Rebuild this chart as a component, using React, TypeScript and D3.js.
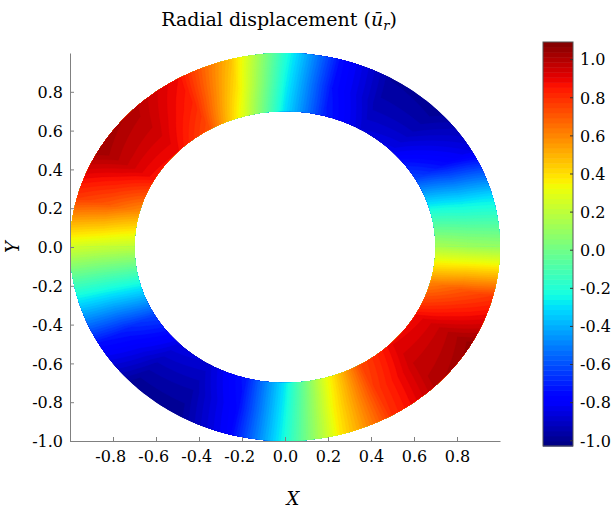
import { useRef, useEffect } from 'react'
import * as d3 from 'd3'

// angle of each sample around the ring, degrees from +X, counter-clockwise
const angles = [0, 15, 30, 45, 60, 75, 90, 105, 120, 135, 150, 165, 180, 195, 210, 225, 240, 255, 270, 285, 300, 315, 330, 345]
// radius of each sample row
const radii = [0.7, 0.85, 1.0]
// radial displacement, one list per row
const innerValues = [0.15, -0.2, -0.62, -0.83, -0.87, -0.7, -0.3, 0.25, 0.72, 0.88, 0.86, 0.58, 0.2, -0.22, -0.62, -0.84, -0.88, -0.72, -0.28, 0.28, 0.74, 0.9, 0.88, 0.6]
const middleValues = [0.12, -0.26, -0.75, -0.93, -0.94, -0.74, -0.25, 0.38, 0.82, 0.95, 0.96, 0.7, 0.22, -0.24, -0.7, -0.93, -0.95, -0.76, -0.25, 0.34, 0.78, 0.96, 0.97, 0.7]
const outerValues = [0.1, -0.3, -0.85, -1.0, -0.98, -0.75, -0.2, 0.48, 0.88, 1.0, 1.04, 0.78, 0.25, -0.25, -0.75, -1.0, -1.0, -0.78, -0.22, 0.38, 0.8, 1.0, 1.05, 0.78]

const xTicks = [-0.8, -0.6, -0.4, -0.2, 0.0, 0.2, 0.4, 0.6, 0.8]
const yTicks = [-1.0, -0.8, -0.6, -0.4, -0.2, 0.0, 0.2, 0.4, 0.6, 0.8]
const barTicks = [-1.0, -0.8, -0.6, -0.4, -0.2, 0.0, 0.2, 0.4, 0.6, 0.8, 1.0]
const valueMin = -1.03
const valueMax = 1.09
const levelCount = 80

// jet colormap channels
const jetR = d3.scaleLinear().domain([0, 0.35, 0.66, 0.89, 1]).range([0, 0, 1, 1, 0.5]).clamp(true)
const jetG = d3.scaleLinear().domain([0, 0.125, 0.375, 0.64, 0.91, 1]).range([0, 0, 1, 1, 0, 0]).clamp(true)
const jetB = d3.scaleLinear().domain([0, 0.11, 0.34, 0.65, 1]).range([0.5, 1, 1, 0, 0]).clamp(true)
const jet = (v: number) => {
    const t = (v - valueMin) / (valueMax - valueMin)
    return d3.rgb(255 * jetR(t), 255 * jetG(t), 255 * jetB(t)).formatHex()
}

const App = () => {
    const svgRef = useRef<SVGSVGElement>(null)

    useEffect(() => {
        const w = 615
        const h = 508
        const font = '"DejaVu Serif", serif'
        const axisColor = '#808080'
        const svg = d3.select(svgRef.current)
            .attr('width', w)
            .attr('height', h)
            .style('display', 'block')
            .style('position', 'absolute')
            .style('left', 0)
            .style('top', 0)
            .style('font-family', font)
        svg.selectAll('*').remove()

        const xScale = d3.scaleLinear().domain([-1, 1]).range([70, 500])
        const yScale = d3.scaleLinear().domain([-1, 1]).range([441, 53])
        const barScale = d3.scaleLinear().domain([valueMin, valueMax]).range([446, 42])

        const levels = d3.range(levelCount + 1).map(i => valueMin + (valueMax - valueMin) * i / levelCount)
        const bandColors = d3.range(levelCount).map(i => jet((levels[i] + levels[i + 1]) / 2))
        const thresholds = levels.slice(0, levelCount).map((t, i) => (i === 0 ? -100 : t))

        const rows = [innerValues, middleValues, outerValues]
        const n = angles.length
        const step = angles[1] - angles[0]
        const rStep = radii[1] - radii[0]

        // grid space -> pixels (grid column c sits at gx = c + 0.5)
        const toPx = (gx: number, gy: number, start: number) => {
            const a = (angles[0] + (start + gx - 0.5) * step) * Math.PI / 180
            const r = radii[0] + (gy - 0.5) * rStep
            return [xScale(r * Math.cos(a)), yScale(r * Math.sin(a))]
        }
        const ringPath = (ring: number[][], start: number) => {
            const pts: number[][] = []
            for (let i = 0; i < ring.length - 1; i++) {
                const [x0, y0] = ring[i]
                const [x1, y1] = ring[i + 1]
                for (let k = 0; k < 4; k++) {
                    pts.push(toPx(x0 + (x1 - x0) * k / 4, y0 + (y1 - y0) * k / 4, start))
                }
            }
            return 'M' + pts.map(p => p[0].toFixed(2) + ',' + p[1].toFixed(2)).join('L') + 'Z'
        }

        // clip paths: the annulus, and the two half planes
        const defs = svg.append('defs')
        const ellipse = (r: number) => d3.range(0, 360, 1).map(a => [
            xScale(r * Math.cos(a * Math.PI / 180)),
            yScale(r * Math.sin(a * Math.PI / 180)),
        ] as [number, number])
        const line = d3.line()
        defs.append('clipPath').attr('id', 'ring')
            .append('path')
            .attr('d', line(ellipse(radii[2])) + 'Z' + line(ellipse(radii[0])) + 'Z')
            .attr('clip-rule', 'evenodd')
        defs.append('clipPath').attr('id', 'upper')
            .append('rect').attr('x', 0).attr('y', 0).attr('width', w).attr('height', yScale(0) + 0.5)
        defs.append('clipPath').attr('id', 'lower')
            .append('rect').attr('x', 0).attr('y', yScale(0) - 0.5).attr('width', w).attr('height', h)

        const field = svg.append('g').attr('clip-path', 'url(#ring)')
        // two passes so the wrap-around seam never overlaps itself
        const passes = [
            { start: -1, cols: 15, clip: 'upper' },
            { start: 11, cols: 15, clip: 'lower' },
        ]
        passes.forEach(p => {
            const values: number[] = []
            rows.forEach(row => {
                for (let c = 0; c < p.cols; c++) values.push(row[(((p.start + c) % n) + n) % n])
            })
            const contours = d3.contours().size([p.cols, rows.length]).thresholds(thresholds)(values)
            field.append('g')
                .attr('clip-path', `url(#${p.clip})`)
                .selectAll('path')
                .data(contours)
                .join('path')
                .attr('d', d => d.coordinates.map(poly => poly.map(ring => ringPath(ring, p.start)).join('')).join(''))
                .attr('fill', (d, i) => bandColors[i])
                .attr('stroke', (d, i) => bandColors[i])
                .attr('stroke-width', 0.3)
                .attr('fill-rule', 'evenodd')
        })

        // axes
        const fmt = (v: number) => v.toFixed(1)
        const xAxis = d3.axisBottom(xScale).tickValues(xTicks).tickSizeInner(-4).tickSizeOuter(0).tickPadding(10).tickFormat(fmt)
        const yAxis = d3.axisLeft(yScale).tickValues(yTicks).tickSizeInner(-4).tickSizeOuter(0).tickPadding(7).tickFormat(fmt)
        const gx = svg.append('g').attr('transform', `translate(0, ${yScale(-1)})`).call(xAxis)
        const gy = svg.append('g').attr('transform', `translate(${xScale(-1)}, 0)`).call(yAxis)
        ;[gx, gy].forEach(g => {
            g.attr('font-family', font).attr('font-size', 16)
            g.selectAll('path, line').attr('stroke', axisColor)
            g.selectAll('text').attr('fill', '#000')
        })
        gx.selectAll('text').attr('dx', (d: any) => (d < 0 ? '-0.17em' : 0))
        gy.selectAll('text').attr('dy', '0.36em')

        // colour bar
        const bar = svg.append('g')
        bar.selectAll('rect')
            .data(bandColors)
            .join('rect')
            .attr('x', 543)
            .attr('width', 30)
            .attr('y', (d, i) => barScale(levels[i + 1]))
            .attr('height', (d, i) => barScale(levels[i]) - barScale(levels[i + 1]) + 0.5)
            .attr('fill', d => d)
        bar.append('rect')
            .attr('x', 543).attr('y', barScale(valueMax))
            .attr('width', 30).attr('height', barScale(valueMin) - barScale(valueMax))
            .attr('fill', 'none').attr('stroke', '#555').attr('stroke-width', 1)
        const barAxis = d3.axisRight(barScale).tickValues(barTicks).tickSizeInner(-3).tickSizeOuter(0).tickPadding(7).tickFormat(fmt)
        const gb = svg.append('g').attr('transform', 'translate(573, 0)').call(barAxis)
        gb.attr('font-family', font).attr('font-size', 16)
        gb.select('.domain').remove()
        gb.selectAll('line').attr('stroke', '#333')
        gb.selectAll('text').attr('fill', '#000').attr('dy', '0.36em')

        // labels
        const title = svg.append('text')
            .attr('x', 279).attr('y', 26)
            .attr('text-anchor', 'middle')
            .attr('font-family', font).attr('font-size', 19)
        title.append('tspan').text('Radial displacement (')
        title.append('tspan').attr('font-style', 'italic').text('ū')
        title.append('tspan').attr('font-style', 'italic').attr('font-size', 13).attr('dy', 4).text('r')
        title.append('tspan').attr('dy', -4).text(')')

        svg.append('text')
            .attr('x', 293).attr('y', 505)
            .attr('text-anchor', 'middle')
            .attr('font-family', font).attr('font-size', 18).attr('font-style', 'italic')
            .text('X')
        svg.append('text')
            .attr('transform', `translate(19, ${yScale(0)}) rotate(-90)`)
            .attr('text-anchor', 'middle')
            .attr('font-family', font).attr('font-size', 18).attr('font-style', 'italic')
            .text('Y')
    }, [])

    return (
        <div>
            <svg ref={svgRef}></svg>
        </div>
    )
}

export default App
